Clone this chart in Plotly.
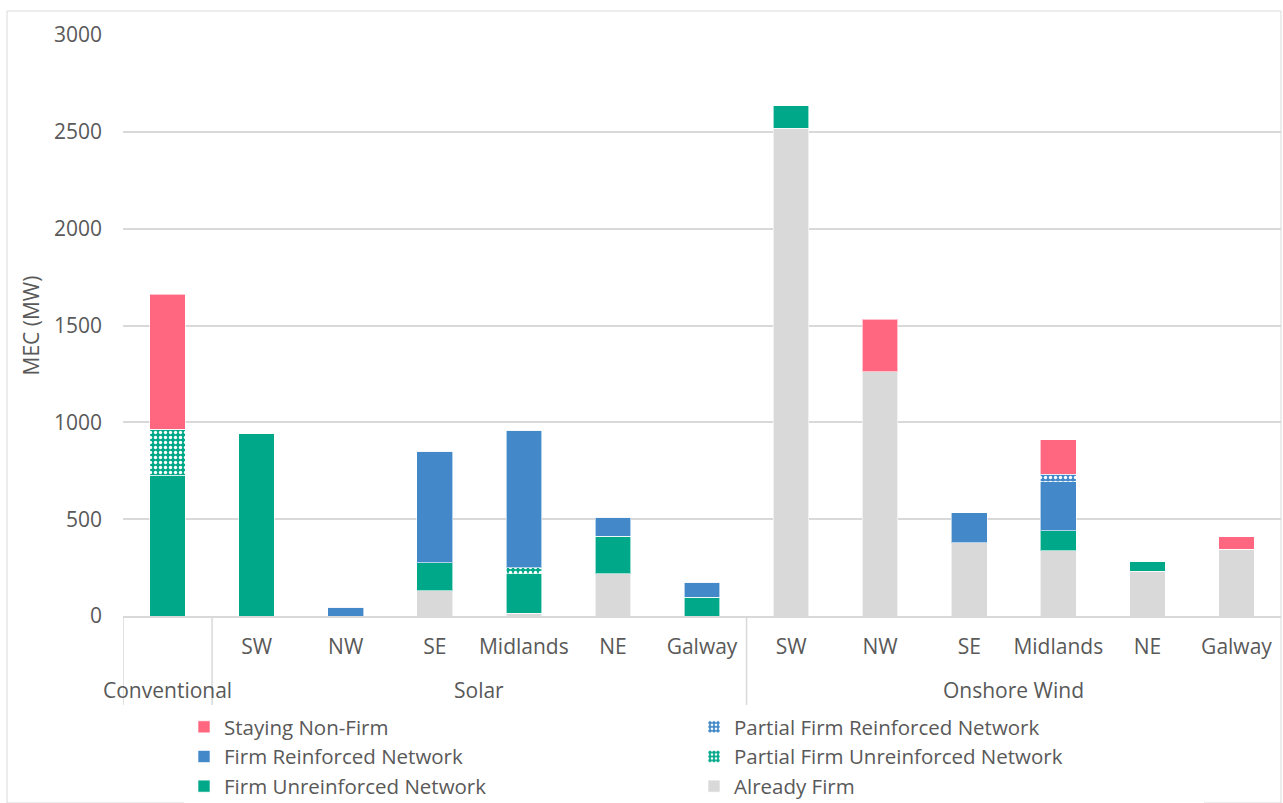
import plotly.graph_objects as go

groups = ["Conventional", "Solar", "Solar", "Solar", "Solar", "Solar", "Solar",
          "Onshore Wind", "Onshore Wind", "Onshore Wind", "Onshore Wind", "Onshore Wind", "Onshore Wind"]
regions = ["", "SW", "NW", "SE", "Midlands", "NE", "Galway",
           "SW", "NW", "SE", "Midlands", "NE", "Galway"]

already_firm =        [0,   0,   0,  130,  15, 217,  0, 2519, 1260, 377, 336, 232, 345]
firm_unreinforced =   [728, 940, 0,  144, 202, 196, 98, 119,  0,    0,   103, 51,  0]
partial_unreinforced = [237, 0,  0,  0,   31,  0,   0,  0,    0,    0,   0,   0,   0]
firm_reinforced =     [0,   0,   46, 578, 712, 98,  77, 0,    0,    155, 253, 0,   0]
partial_reinforced =  [0,   0,   0,  0,   0,   0,   0,  0,    0,    0,   41,  0,   0]
staying_non_firm =    [697, 0,   0,  0,   0,   0,   0,  0,    273,  0,   176, 0,   65]

y_ticks = [0, 500, 1000, 1500, 2000, 2500, 3000]

PINK = "#FF6680"
BLUE = "#4389C9"
TEAL = "#00A88A"
GREY = "#D9D9D9"
TEXT = "#595959"
LINE = "#D9D9D9"
FONT = "Open Sans"

# unique category keys (group|region), shown with the region text only
cat_keys = [f"{g}|{r}" for g, r in zip(groups, regions)]

series = [
    ("Already Firm", already_firm, GREY, None),
    ("Firm Unreinforced Network", firm_unreinforced, TEAL, None),
    ("Partial Firm Unreinforced Network", partial_unreinforced, TEAL, "."),
    ("Firm Reinforced Network", firm_reinforced, BLUE, None),
    ("Partial Firm Reinforced Network", partial_reinforced, BLUE, "."),
    ("Staying Non-Firm", staying_non_firm, PINK, None),
]

fig = go.Figure()
for name, vals, color, pat in series:
    marker = dict(color=color, line=dict(color="rgba(255,255,255,0.6)", width=1))
    if pat:
        marker["pattern"] = dict(shape=pat, fgcolor="white", bgcolor=color,
                                 size=5, solidity=0.35, fillmode="replace")
    fig.add_trace(go.Bar(name=name, x=cat_keys, y=vals, marker=marker))

# group labels and dividers derived from the group list
group_order = []
for g in groups:
    if g not in group_order:
        group_order.append(g)
for g in group_order:
    idx = [i for i, gg in enumerate(groups) if gg == g]
    fig.add_annotation(x=sum(idx) / len(idx), xref="x", y=-0.127, yref="paper",
                       text=g, showarrow=False, yanchor="middle",
                       font=dict(family=FONT, size=21, color=TEXT))
boundaries = [-0.5] + [i - 0.5 for i in range(1, len(groups)) if groups[i] != groups[i - 1]]
for b in boundaries:
    fig.add_shape(type="line", xref="x", yref="paper", x0=b, x1=b,
                  y0=0, y1=(616 - 705) / 581, line=dict(color=LINE, width=1.5))

fig.update_layout(
    barmode="stack",
    bargap=0.6,
    width=1283, height=803,
    margin=dict(l=123, r=2, t=35, b=187),
    plot_bgcolor="white",
    paper_bgcolor="white",
    font=dict(family=FONT, size=20, color=TEXT),
    legend=dict(
        orientation="h",
        traceorder="reversed",
        xref="container", yref="container",
        x=184 / 1283, xanchor="left",
        y=1 - 707 / 803, yanchor="top",
        entrywidth=465,
        font=dict(family=FONT, size=20.5, color=TEXT),
        itemwidth=30,
        tracegroupgap=0,
    ),
    yaxis=dict(
        range=[0, 3000],
        tickvals=y_ticks,
        showgrid=True, gridcolor=LINE, gridwidth=1.5,
        zeroline=False,
        showline=False,
        ticks="",
        automargin=False,
        ticklabelstandoff=20,
        tickfont=dict(family=FONT, size=21, color=TEXT),
        title=dict(text="MEC (MW)", font=dict(family=FONT, size=21, color=TEXT), standoff=8),
    ),
    xaxis=dict(
        type="category",
        tickvals=cat_keys,
        ticktext=regions,
        range=[-0.5, len(cat_keys) - 0.5],
        autorange=False,
        automargin=False,
        tickangle=0,
        ticklabelstandoff=11,
        showline=True, linecolor=LINE, linewidth=1.5,
        showgrid=False,
        tickfont=dict(family=FONT, size=21, color=TEXT),
        ticks="",
    ),
)

# chart area border
fig.add_shape(type="rect", xref="paper", yref="paper",
              x0=(7 - 123) / 1158, x1=(1281 - 123) / 1158,
              y0=(616 - 803) / 581, y1=(616 - 11) / 581,
              line=dict(color=LINE, width=1), layer="below")

fig.write_html("out.html")
